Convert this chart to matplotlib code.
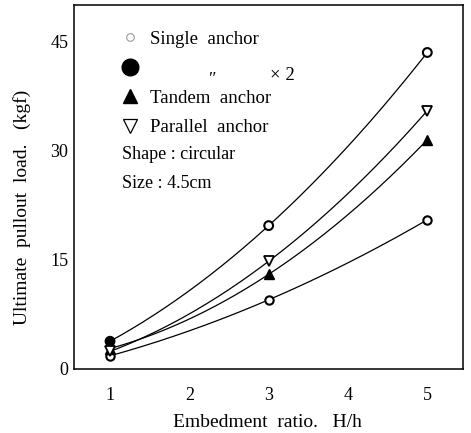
import numpy as np
import matplotlib
matplotlib.use("Agg")
import matplotlib.pyplot as plt
from matplotlib.lines import Line2D

plt.rcParams['font.family'] = ['Liberation Serif', 'DejaVu Serif']

# Inputs
ratio = [1, 3, 5]
single = [1.8, 9.5, 20.5]
single_x2 = [3.8, 19.7, 43.5]
tandem = [2.8, 13.0, 31.5]
parallel = [2.4, 14.8, 35.5]

xticks = [1, 2, 3, 4, 5]
yticks = [0, 15, 30, 45]

fig = plt.figure(figsize=(4.71, 4.33), dpi=100)
ax = fig.add_axes([0.157, 0.148, 0.826, 0.840])


def curve(xs, ys):
    """Smooth quadratic through the measured points."""
    c = np.polyfit(xs, ys, 2)
    xx = np.linspace(xs[0], xs[-1], 200)
    ax.plot(xx, np.polyval(c, xx), color="black", lw=0.9, zorder=2)


for ys in [single, single_x2, tandem, parallel]:
    curve(ratio, ys)

# markers
ax.plot(ratio, single, "o", ms=6, mfc="white", mec="black", mew=1.5, zorder=3)
ax.scatter(ratio, single_x2, s=40, facecolors=["black", "white", "white"],
           edgecolors="black", linewidths=1.5, zorder=3)
ax.plot(ratio, tandem, "^", ms=7.5, color="black", zorder=3)
ax.plot(ratio, parallel, "v", ms=7.5, mfc="white", mec="black", mew=1.3, zorder=3)

ax.set_xlim(0.545, 5.45)
ax.set_ylim(0, 50)
ax.set_xticks(xticks)
ax.set_yticks(yticks)
ax.tick_params(axis="both", length=0, labelsize=13)
ax.tick_params(axis="x", pad=13)
ax.tick_params(axis="y", pad=4)
for s in ax.spines.values():
    s.set_linewidth(1.1)

ax.set_xlabel("Embedment  ratio.   H/h", fontsize=14)
ax.xaxis.set_label_coords(0.497, -0.123)
ax.set_ylabel("Ultimate  pullout  load.   (kgf)", fontsize=14)
ax.yaxis.set_label_coords(-0.11, 0.445)

handles = [
    Line2D([], [], ls="none", marker="o", ms=5.5, mfc="white", mec="0.6", mew=0.8),
    Line2D([], [], ls="none", marker="o", ms=12, color="black"),
    Line2D([], [], ls="none", marker="^", ms=10, color="black"),
    Line2D([], [], ls="none", marker="v", ms=9.5, mfc="white", mec="black", mew=0.9),
]
labels = ["Single  anchor", " ", "Tandem  anchor", "Parallel  anchor"]
ax.legend(handles, labels, loc="upper left", bbox_to_anchor=(0.121, 0.93),
          frameon=False, fontsize=13.5, borderpad=0, handlelength=1.0,
          handletextpad=0.55, labelspacing=0.66, borderaxespad=0)

ax.text(0.344, 0.793, "\u2033", transform=ax.transAxes, fontsize=13, va="center")
ax.text(0.503, 0.806, "\u00d7 2", transform=ax.transAxes, fontsize=13.5, va="center")
ax.text(0.123, 0.59, "Shape : circular", transform=ax.transAxes, fontsize=13, va="center")
ax.text(0.123, 0.51, "Size : 4.5cm", transform=ax.transAxes, fontsize=13, va="center")

fig.savefig("out.png", dpi=100)
